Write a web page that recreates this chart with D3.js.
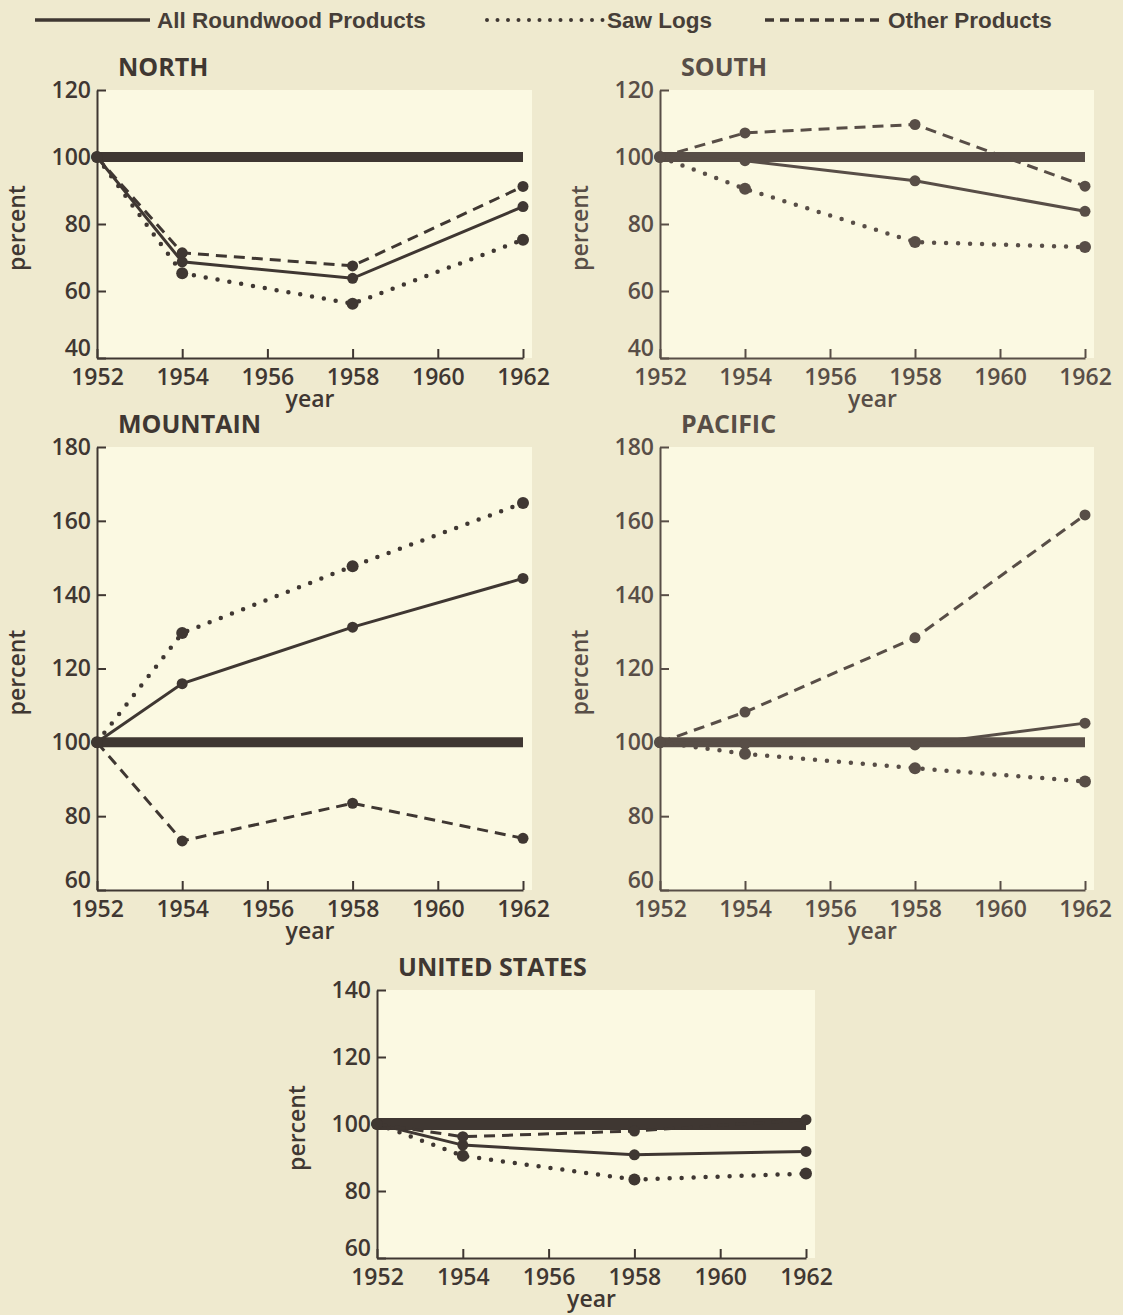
<!DOCTYPE html>
<meta charset="utf-8">
<style>
body { margin: 0; background: #efeacf; }
svg { display: block; }
.tick text, .lbl { font-family: "Open Sans", "DejaVu Sans", sans-serif; font-weight: 600; }
</style>
<body>
<script src="https://d3js.org/d3.v7.min.js"></script>
<script>
// values, index 100 = 1952
var years = [1952, 1954, 1958, 1962];
var regions = ["NORTH", "SOUTH", "MOUNTAIN", "PACIFIC", "UNITED STATES"];

// one row per region, same order as regions
var allRoundwood = [
  [100, 68.7, 63.8, 85.2],
  [100, 98.9, 92.9, 83.8],
  [100, 115.9, 131.2, 144.4],
  [100, 99.5, 99.3, 105.2],
  [100, 93.7, 90.8, 91.8]
];
var sawLogs = [
  [100, 65.3, 56.2, 75.3],
  [100, 90.5, 74.6, 73.1],
  [100, 129.6, 147.7, 164.8],
  [100, 96.9, 93.0, 89.4],
  [100, 90.5, 83.4, 85.2]
];
var otherProducts = [
  [100, 71.4, 67.5, 91.2],
  [100, 107.2, 109.7, 91.3],
  [100, 73.3, 83.5, 74.0],
  [100, 108.2, 128.3, 161.6],
  [100, 96.2, 97.9, 101.3]
];
var yTicks = [
  [40, 60, 80, 100, 120],
  [40, 60, 80, 100, 120],
  [60, 80, 100, 120, 140, 160, 180],
  [60, 80, 100, 120, 140, 160, 180],
  [60, 80, 100, 120, 140]
];
var xTicks = [1952, 1954, 1956, 1958, 1960, 1962];
var seriesNames = ["All Roundwood Products", "Saw Logs", "Other Products"];

// panel boxes (pixels) and ink
var layout = [
  {x0: 97,  x1: 523,  y0: 90,  y1: 358, ink: "#3f3732"},
  {x0: 660, x1: 1085, y0: 90,  y1: 358, ink: "#584e47"},
  {x0: 97,  x1: 523,  y0: 447, y1: 890, ink: "#3f3732"},
  {x0: 660, x1: 1085, y0: 447, y1: 890, ink: "#584e47"},
  {x0: 377, x1: 806,  y0: 990, y1: 1258, ink: "#3f3732"}
];
var styles = [
  {w: 3, dash: null, cap: "butt"},
  {w: 4.5, dash: "0,12", cap: "round"},
  {w: 3, dash: "11,7", cap: "butt"}
];

var svg = d3.select("body").append("svg")
    .attr("width", 1123)
    .attr("height", 1315);

svg.append("rect").attr("width", 1123).attr("height", 1315).attr("fill", "#efeacf");

// legend
var legend = [
  {x0: 35, x1: 150, tx: 157},
  {x0: 487, x1: 604, tx: 607},
  {x0: 765, x1: 885, tx: 888}
];
legend.forEach(function(l, k) {
  svg.append("line")
      .attr("x1", l.x0).attr("x2", l.x1)
      .attr("y1", 20).attr("y2", 20)
      .attr("stroke", "#3f3732")
      .attr("stroke-width", k == 1 ? 4 : 3.5)
      .attr("stroke-linecap", styles[k].cap)
      .attr("stroke-dasharray", k == 1 ? "0,10.5" : (k == 2 ? "9,6" : null));
  svg.append("text")
      .attr("x", l.tx).attr("y", 28)
      .attr("font-family", "Liberation Sans, Arial, sans-serif")
      .attr("font-weight", "bold")
      .attr("font-size", 22.5)
      .attr("fill", "#463e38")
      .text(seriesNames[k]);
});

regions.forEach(function(name, i) {
  var p = layout[i];
  var g = svg.append("g");

  var x = d3.scaleLinear().domain([1952, 1962]).range([p.x0, p.x1]);
  var y = d3.scaleLinear().domain(d3.extent(yTicks[i])).range([p.y1, p.y0]);

  // lighter plot field
  g.append("rect")
      .attr("x", p.x0).attr("y", p.y0)
      .attr("width", p.x1 - p.x0 + 9).attr("height", p.y1 - p.y0)
      .attr("fill", "#fbf9e2");

  var yAxis = g.append("g")
      .attr("transform", "translate(" + p.x0 + ",0)")
      .call(d3.axisLeft(y).tickValues(yTicks[i]).tickSize(-9).tickSizeOuter(0).tickPadding(6));
  var xAxis = g.append("g")
      .attr("transform", "translate(0," + p.y1 + ")")
      .call(d3.axisBottom(x).tickValues(xTicks).tickFormat(d3.format("d")).tickSize(-9).tickSizeOuter(0).tickPadding(11));

  [yAxis, xAxis].forEach(function(a) {
    a.selectAll("path, line").attr("stroke", p.ink).attr("stroke-width", 2);
    a.selectAll("text").attr("fill", p.ink).attr("font-size", 23);
  });
  // lowest y label sits a little above its tick
  yAxis.selectAll(".tick text")
      .filter(function(d) { return d == yTicks[i][0]; })
      .attr("dy", "-0.1em");

  // title
  g.append("text").attr("class", "lbl")
      .attr("x", p.x0 + 21).attr("y", p.y0 - 14)
      .attr("font-size", 25)
      .style("font-weight", "bold")
      .attr("fill", p.ink)
      .text(name);

  g.append("text").attr("class", "lbl")
      .attr("transform", "translate(" + (p.x0 - 79) + "," + ((p.y0 + p.y1) / 2 + 4) + ") rotate(-90)")
      .attr("text-anchor", "middle").attr("dy", "0.3em")
      .attr("font-size", 23).attr("fill", p.ink)
      .text("percent");

  g.append("text").attr("class", "lbl")
      .attr("x", (p.x0 + p.x1) / 2).attr("y", p.y1 + 49)
      .attr("text-anchor", "middle")
      .attr("font-size", 23).attr("fill", p.ink)
      .text("year");

  // base line at 100
  g.append("line")
      .attr("x1", x(1952)).attr("x2", x(1962))
      .attr("y1", y(100)).attr("y2", y(100))
      .attr("stroke", p.ink)
      .attr("stroke-width", i == 4 ? 12 : 10);

  var line = d3.line()
      .x(function(d, j) { return x(years[j]); })
      .y(function(d) { return y(d); });

  [allRoundwood[i], sawLogs[i], otherProducts[i]].forEach(function(vals, k) {
    var s = styles[k];
    g.append("path")
        .datum(vals)
        .attr("d", line)
        .attr("fill", "none")
        .attr("stroke", p.ink)
        .attr("stroke-width", s.w)
        .attr("stroke-linecap", s.cap)
        .attr("stroke-dasharray", s.dash);
    g.selectAll(null)
        .data(vals)
      .enter().append("circle")
        .attr("cx", function(d, j) { return x(years[j]); })
        .attr("cy", function(d) { return y(d); })
        .attr("r", k == 1 ? 6 : 5.5)
        .attr("fill", p.ink);
  });
});
</script>
</body>
